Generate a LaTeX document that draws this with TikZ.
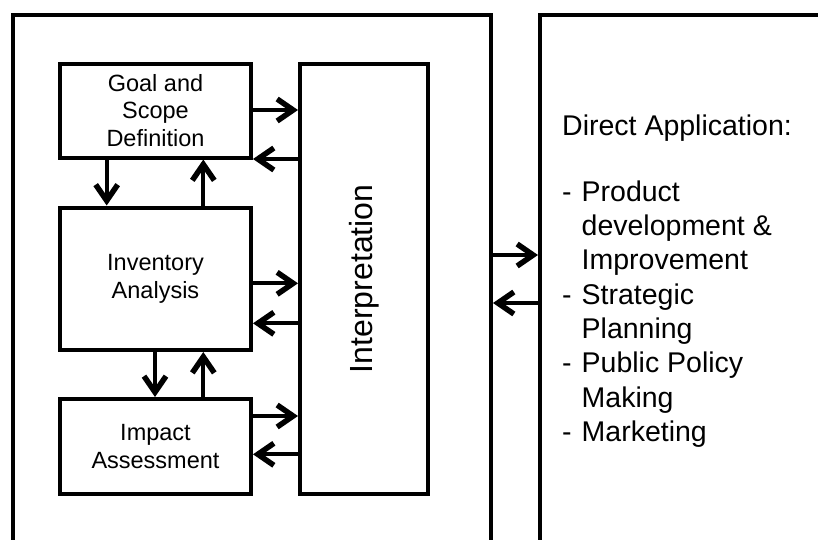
\documentclass[tikz,border=0pt]{standalone}
\usepackage{fontspec}
\setmainfont{Liberation Sans}
\usepackage{graphicx}
\usetikzlibrary{arrows.meta}

\begin{document}
\begin{tikzpicture}[
  x=1pt, y=-1pt,
  stage/.style={draw=black, line width=4pt, inner sep=0pt, align=center,
    font=\fontsize{23.5}{27.5}\selectfont},
  arr/.style={line width=4pt, -{Straight Barb[length=16pt, width=22pt, line width=5.5pt]}},
  frame/.style={line width=4pt, draw=black},
  apptext/.style={inner sep=0pt, font=\fontsize{28.5}{34.3}\selectfont}
]
  % Caja delimitadora con el tamano de la imagen
  \useasboundingbox (0,0) rectangle (818,539);

  % Marcos exteriores, abiertos por abajo
  \draw[frame] (12.5,545) -- (12.5,15) -- (491,15) -- (491,545);
  \draw[frame] (540,545) -- (540,15) -- (830,15);

  % Etapas
  \node[stage, minimum width=191pt, minimum height=94pt]    (goal)   at (155.5,110.5) {Goal and\\Scope\\Definition};
  \node[stage, minimum width=191pt, minimum height=142.5pt] (inv)    at (155.5,278.75) {Inventory\\Analysis};
  \node[stage, minimum width=191pt, minimum height=95pt]    (impact) at (155.5,446.5) {Impact\\Assessment};
  \node[stage, minimum width=127.5pt, minimum height=430.5pt, font=\fontsize{32}{36}\selectfont]
    (interp) at (363.75,278.75) {\rotatebox{90}{Interpretation}};

  % Alturas y columnas de las flechas
  \coordinate (h1) at (0,110);   \coordinate (h2) at (0,159);
  \coordinate (h3) at (0,283.3); \coordinate (h4) at (0,323.3);
  \coordinate (h5) at (0,416);   \coordinate (h6) at (0,454.3);
  \coordinate (h7) at (0,255);   \coordinate (h8) at (0,303);
  \coordinate (c1) at (106.7,0); \coordinate (c2) at (203.3,0);
  \coordinate (c3) at (155,0);

  % Flechas hacia y desde la interpretacion
  \draw[arr] (goal.east |- h1) -- (interp.west |- h1);
  \draw[arr] (interp.west |- h2) -- (goal.east |- h2);
  \draw[arr] (inv.east |- h3) -- (interp.west |- h3);
  \draw[arr] (interp.west |- h4) -- (inv.east |- h4);
  \draw[arr] (impact.east |- h5) -- (interp.west |- h5);
  \draw[arr] (interp.west |- h6) -- (impact.east |- h6);

  % Flechas verticales entre etapas
  \draw[arr] (goal.south -| c1) -- (inv.north -| c1);
  \draw[arr] (inv.north -| c2) -- (goal.south -| c2);
  \draw[arr] (inv.south -| c3) -- (impact.north -| c3);
  \draw[arr] (impact.north -| c2) -- (inv.south -| c2);

  % Aplicaciones
  \coordinate (lft) at (493,0);
  \coordinate (rgt) at (538,0);
  \draw[arr] (lft |- h7) -- (rgt |- h7);
  \draw[arr] (rgt |- h8) -- (lft |- h8);

  \node[apptext, anchor=base west] (apps) at (562,135) {%
    \begin{tabular}[t]{@{}l@{\hspace{10pt}}l@{}}
      \multicolumn{2}{@{}l@{}}{Direct Application:}\\[32pt]
      - & Product\\
        & development \&\\
        & Improvement\\
      - & Strategic\\
        & Planning\\
      - & Public Policy\\
        & Making\\
      - & Marketing
    \end{tabular}};
\end{tikzpicture}
\end{document}
